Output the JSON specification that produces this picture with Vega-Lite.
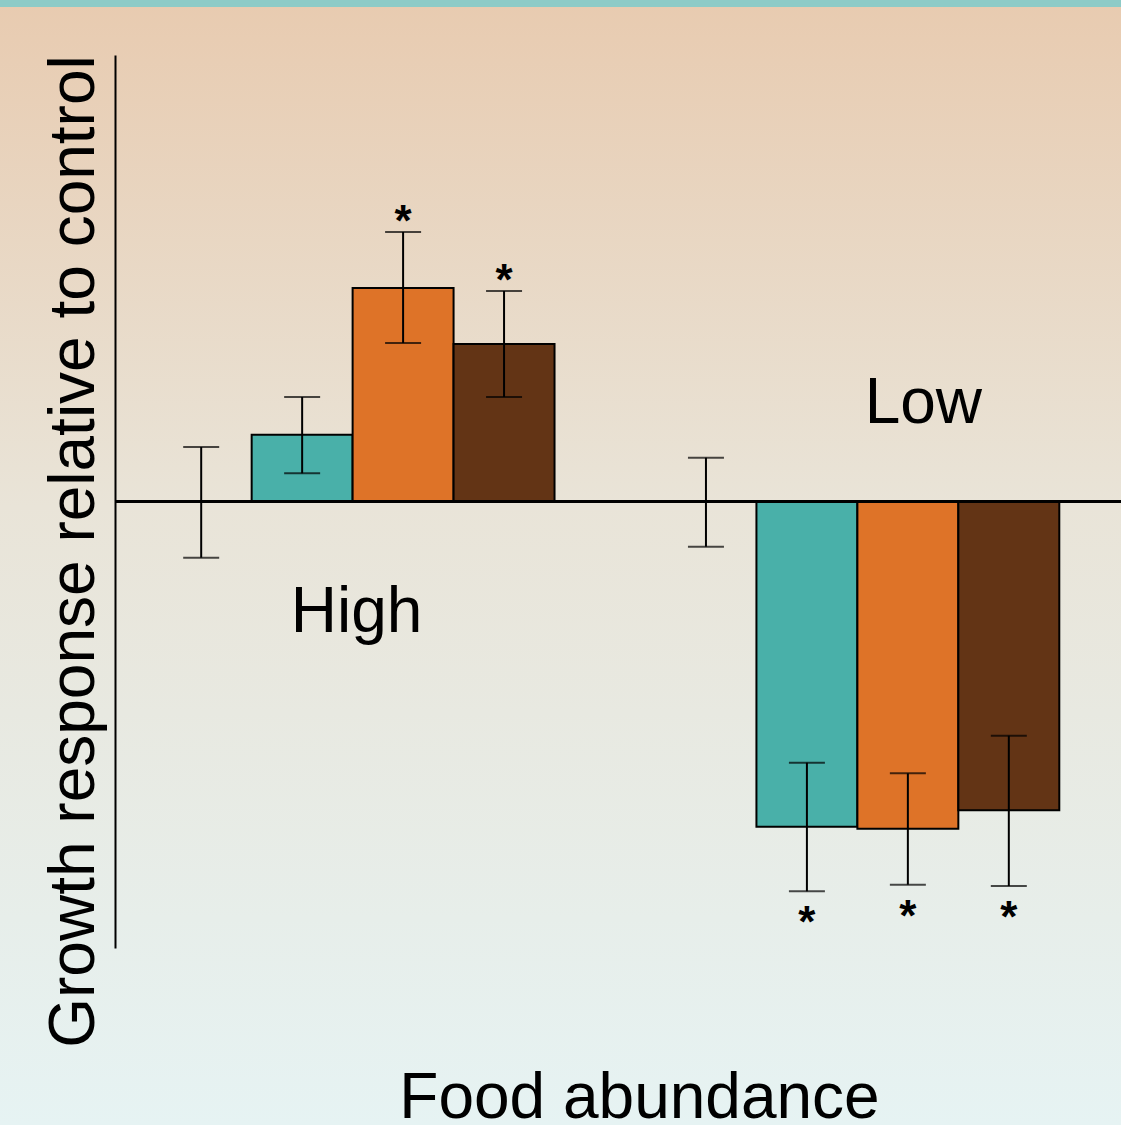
{
  "$schema": "https://vega.github.io/schema/vega-lite/v6.json",
  "width": 1121,
  "height": 1125,
  "padding": 0,
  "autosize": {"type": "none"},
  "config": {"view": {"stroke": null}, "font": "Liberation Sans"},
  "data": {"values": [
    {"food": "High", "treatment": "Control", "value": 0, "lo": -0.567, "hi": 0.54, "sig": ""},
    {"food": "High", "treatment": "Treatment 1", "value": 0.663, "lo": 0.277, "hi": 1.04, "sig": ""},
    {"food": "High", "treatment": "Treatment 2", "value": 2.13, "lo": 1.58, "hi": 2.69, "sig": "*"},
    {"food": "High", "treatment": "Treatment 3", "value": 1.57, "lo": 1.04, "hi": 2.10, "sig": "*"},
    {"food": "Low", "treatment": "Control", "value": 0, "lo": -0.457, "hi": 0.433, "sig": ""},
    {"food": "Low", "treatment": "Treatment 1", "value": -3.257, "lo": -3.903, "hi": -2.617, "sig": "*"},
    {"food": "Low", "treatment": "Treatment 2", "value": -3.277, "lo": -3.837, "hi": -2.723, "sig": "*"},
    {"food": "Low", "treatment": "Treatment 3", "value": -3.093, "lo": -3.85, "hi": -2.347, "sig": "*"}
  ]},
  "layer": [
    {
      "data": {"values": [{"bg": 1}]},
      "mark": {"type": "rect", "fill": {"gradient": "linear", "x1": 0, "y1": 0, "x2": 0, "y2": 1, "stops": [
        {"offset": 0, "color": "#E8CBB0"},
        {"offset": 0.45, "color": "#E9E4D8"},
        {"offset": 1, "color": "#E6F3F3"}
      ]}},
      "encoding": {
        "x": {"value": 0},
        "x2": {"value": "width"},
        "y": {"value": 0},
        "y2": {"value": "height"}
      }
    },
    {
      "data": {"values": [{"bg": 1}]},
      "mark": {"type": "rect", "fill": "#8DCBC7"},
      "encoding": {
        "x": {"value": 0},
        "x2": {"value": "width"},
        "y": {"datum": 5.01},
        "y2": {"datum": 4.94}
      }
    },
    {
      "transform": [{"filter": "datum.treatment != 'Control'"}],
      "mark": {"type": "bar", "stroke": "black", "strokeWidth": 2},
      "encoding": {
        "x": {
          "field": "food", "type": "nominal",
          "scale": {"domain": ["High", "Low"], "range": [115, 1121], "paddingInner": 0.2, "paddingOuter": 0.0965, "align": 0.3666},
          "axis": {
            "orient": "bottom", "domain": false, "ticks": false, "labels": false, "grid": false,
            "title": "Food abundance", "titleFontSize": 64, "titleFontWeight": "normal", "titleColor": "black",
            "titleX": 639, "titleY": -8, "titleBaseline": "alphabetic", "titleAlign": "center", "zindex": 1
          }
        },
        "xOffset": {
          "field": "treatment", "type": "nominal",
          "scale": {"domain": ["Control", "Treatment 1", "Treatment 2", "Treatment 3"], "paddingInner": 0, "paddingOuter": 0}
        },
        "y": {
          "field": "value", "type": "quantitative",
          "scale": {"domain": [-4.47, 4.46], "range": [948, 55], "nice": false, "zero": false},
          "axis": {
            "orient": "left", "offset": -115, "domain": true, "domainColor": "black", "domainWidth": 2,
            "ticks": false, "labels": false, "grid": true, "values": [0], "gridColor": "black", "gridWidth": 3, "gridOpacity": 1,
            "title": "Growth response relative to control", "titleFontSize": 64, "titleFontWeight": "normal", "titleColor": "black",
            "titleX": -22, "titleY": 551, "titleBaseline": "alphabetic", "titleAlign": "center", "titleAngle": -90, "zindex": 1
          }
        },
        "y2": {"datum": 0},
        "color": {
          "field": "treatment", "type": "nominal",
          "scale": {"domain": ["Treatment 1", "Treatment 2", "Treatment 3"], "range": ["#49B0A9", "#DE7328", "#633415"]},
          "legend": null
        }
      }
    },
    {
      "mark": {"type": "rule", "color": "black", "strokeWidth": 2},
      "encoding": {
        "x": {"field": "food", "type": "nominal"},
        "xOffset": {"field": "treatment", "type": "nominal"},
        "y": {"field": "lo", "type": "quantitative"},
        "y2": {"field": "hi"}
      }
    },
    {
      "mark": {"type": "tick", "color": "black", "size": 36, "thickness": 2},
      "encoding": {
        "x": {"field": "food", "type": "nominal"},
        "xOffset": {"field": "treatment", "type": "nominal"},
        "y": {"field": "lo", "type": "quantitative"}
      }
    },
    {
      "mark": {"type": "tick", "color": "black", "size": 36, "thickness": 2},
      "encoding": {
        "x": {"field": "food", "type": "nominal"},
        "xOffset": {"field": "treatment", "type": "nominal"},
        "y": {"field": "hi", "type": "quantitative"}
      }
    },
    {
      "transform": [{"filter": "datum.sig == '*' && datum.value > 0"}],
      "mark": {"type": "text", "fontSize": 44, "fontWeight": "bold", "baseline": "alphabetic", "align": "center", "dy": 4, "color": "black"},
      "encoding": {
        "x": {"field": "food", "type": "nominal"},
        "xOffset": {"field": "treatment", "type": "nominal"},
        "y": {"field": "hi", "type": "quantitative"},
        "text": {"field": "sig"}
      }
    },
    {
      "transform": [{"filter": "datum.sig == '*' && datum.value < 0"}],
      "mark": {"type": "text", "fontSize": 44, "fontWeight": "bold", "baseline": "alphabetic", "align": "center", "dy": 46, "color": "black"},
      "encoding": {
        "x": {"field": "food", "type": "nominal"},
        "xOffset": {"field": "treatment", "type": "nominal"},
        "y": {"field": "lo", "type": "quantitative"},
        "text": {"field": "sig"}
      }
    },
    {
      "data": {"values": [{"label": "High"}]},
      "mark": {"type": "text", "fontSize": 64, "baseline": "alphabetic", "align": "center", "dx": 4, "color": "black"},
      "encoding": {
        "x": {"datum": "High"},
        "y": {"datum": -1.31},
        "text": {"field": "label"}
      }
    },
    {
      "data": {"values": [{"label": "Low"}]},
      "mark": {"type": "text", "fontSize": 64, "baseline": "alphabetic", "align": "center", "dx": 66, "color": "black"},
      "encoding": {
        "x": {"datum": "Low"},
        "y": {"datum": 0.78},
        "text": {"field": "label"}
      }
    }
  ]
}
